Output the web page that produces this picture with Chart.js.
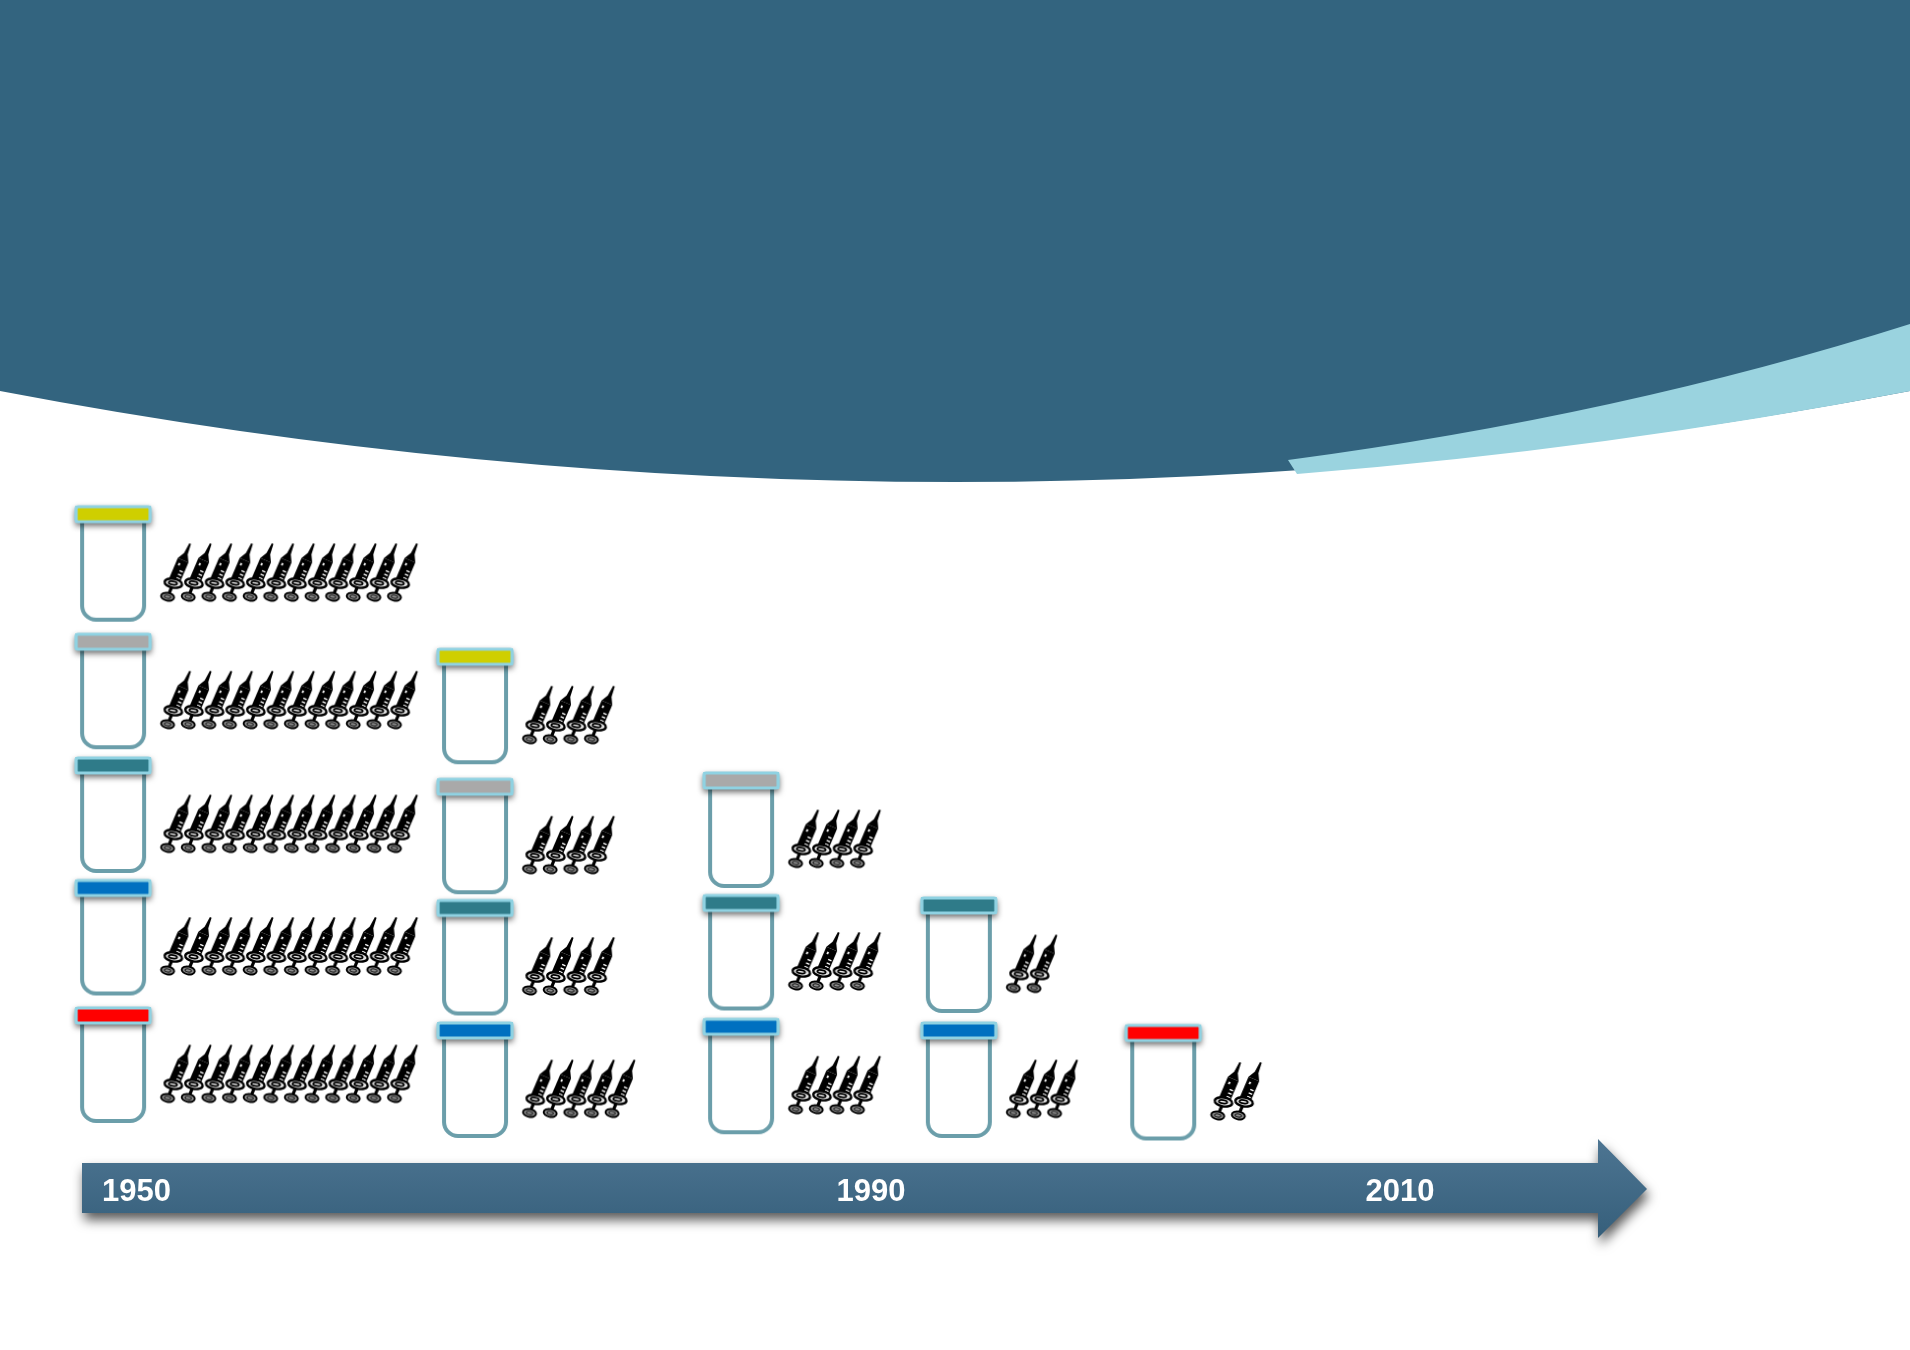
<!DOCTYPE html>
<html>
<head>
<meta charset="utf-8">
<title>Vaccines and doses over time</title>
<script src="https://cdn.jsdelivr.net/npm/chart.js@4"></script>
<style>
  html, body { margin: 0; padding: 0; background: #fff; }
  canvas { display: block; }
</style>
</head>
<body>
<canvas id="chart" width="1910" height="1350"></canvas>
<script>
// timeline labels and where they sit along the arrow (x axis is 0-100 along the slide)
const tickPos = [7.15, 45.6, 73.3];
const tickLabels = ['1950', '1990', '2010'];

// one entry per column of jars, top jar first
const columnPos = [5.92, 24.87, 38.8, 50.2, 60.9];
const jarLevels = [
    [5.01, 3.99, 3.0, 2.02, 1.0],
    [3.87, 2.83, 1.86, 0.88],
    [2.88, 1.9, 0.91],
    [1.88, 0.88],
    [0.86]
];
const jarKinds = [
    ['yellow', 'gray', 'teal', 'blue', 'red'],
    ['yellow', 'gray', 'teal', 'blue'],
    ['gray', 'teal', 'blue'],
    ['teal', 'blue'],
    ['red']
];
const doseCounts = [
    [12, 12, 12, 12, 12],
    [4, 4, 4, 5],
    [4, 4, 4],
    [2, 3],
    [2]
];

const LID_COLORS = { yellow: '#cfcf00', gray: '#a9a9a9', teal: '#2f7b89', blue: '#0070c0', red: '#ff0000' };
const DOSE_GAP = 3.42;    // jar centre to first syringe, x units
const DOSE_STEP = 1.08;   // syringe to syringe
const DOSE_DROP = 0.06;   // syringes sit a little below the jar centre

function makeJar(color) {
    const c = document.createElement('canvas');
    c.width = 100; c.height = 136;
    const g = c.getContext('2d');
    const cx = 50, cy = 68;
    g.filter = 'blur(0.6px)';
    // body
    g.beginPath();
    g.roundRect(cx - 31, cy - 50, 62, 106, [0, 0, 14, 14]);
    g.fillStyle = '#fff';
    g.fill();
    g.lineWidth = 4;
    g.strokeStyle = '#6b9eaa';
    g.stroke();
    // lid shadow falling on the body
    g.save();
    g.shadowColor = 'rgba(0,0,0,0.6)';
    g.shadowBlur = 6;
    g.shadowOffsetY = 3;
    g.fillStyle = '#8fd2e2';
    g.fillRect(cx - 38, cy - 58, 76, 17);
    g.restore();
    // lid
    g.beginPath();
    g.roundRect(cx - 37, cy - 57, 74, 15, 2);
    g.fillStyle = color;
    g.fill();
    g.lineWidth = 3.2;
    g.strokeStyle = '#8fd2e2';
    g.stroke();
    return c;
}

function makeSyringe() {
    const c = document.createElement('canvas');
    c.width = 50; c.height = 72;
    const g = c.getContext('2d');
    g.filter = 'blur(0.45px)';
    g.translate(25, 36);
    g.rotate(23 * Math.PI / 180);
    g.fillStyle = '#000';
    // needle + hub
    g.beginPath();
    g.moveTo(-0.9, -30); g.lineTo(0.9, -30); g.lineTo(2, -19); g.lineTo(5.8, -12);
    g.lineTo(-5.8, -12); g.lineTo(-2, -19);
    g.closePath();
    g.fill();
    // barrel
    g.fillRect(-5.8, -12, 11.6, 24);
    g.fillStyle = '#fff';
    g.fillRect(-3, -8, 1.8, 2.5);
    [-1, 2.8, 6.6].forEach(y => g.fillRect(0.8, y - 0.7, 3.6, 1.4));
    // rod
    g.fillStyle = '#000';
    g.fillRect(-1.6, 14, 3.2, 11);
    // flange
    const tilt = -13 * Math.PI / 180;
    g.lineWidth = 2.4;
    g.strokeStyle = '#000';
    g.fillStyle = '#e4e4e4';
    g.beginPath(); g.ellipse(0, 13, 8.8, 4.5, tilt, 0, 7); g.fill(); g.stroke();
    g.lineWidth = 1.8;
    g.beginPath(); g.ellipse(-0.5, 13, 4.2, 1.6, tilt, 0, 7); g.stroke();
    // thumb rest
    g.lineWidth = 1.9;
    g.fillStyle = '#8c8c8c';
    g.beginPath(); g.ellipse(0, 27.7, 6.6, 3.9, tilt, 0, 7); g.fill(); g.stroke();
    g.lineWidth = 1.1;
    g.strokeStyle = '#222';
    g.beginPath(); g.ellipse(0, 27.7, 3.2, 1.6, tilt, 0, 7); g.stroke();
    return c;
}

const syringeImg = makeSyringe();
const jarImgs = {};
Object.keys(LID_COLORS).forEach(k => { jarImgs[k] = makeJar(LID_COLORS[k]); });

// build the point lists from the arrays above
const jarPoints = [], jarStyles = [], dosePoints = [];
columnPos.forEach((x, col) => {
    jarLevels[col].forEach((level, row) => {
        jarPoints.push({ x: x, y: level });
        jarStyles.push(jarImgs[jarKinds[col][row]]);
        for (let i = 0; i < doseCounts[col][row]; i++) {
            dosePoints.push({ x: x + DOSE_GAP + i * DOSE_STEP, y: level - DOSE_DROP });
        }
    });
});

// slide background: dark banner with the pale crescent
const slideBackground = {
    id: 'slideBackground',
    beforeDraw(chart) {
        const g = chart.ctx;
        g.save();
        g.fillStyle = '#fff';
        g.fillRect(0, 0, 1910, 1350);
        g.fillStyle = '#33647f';
        g.beginPath();
        g.moveTo(0, 0); g.lineTo(1910, 0); g.lineTo(1910, 391);
        g.quadraticCurveTo(955, 573, 0, 391);
        g.closePath();
        g.fill();
        g.fillStyle = '#9ad3df';
        g.beginPath();
        g.moveTo(1288, 460);
        g.quadraticCurveTo(1620, 416, 1910, 324);
        g.lineTo(1910, 391);
        g.quadraticCurveTo(1610, 449, 1297, 474);
        g.closePath();
        g.fill();
        g.restore();
    }
};

// the timeline arrow sits under the axis labels
const timelineArrow = {
    id: 'timelineArrow',
    beforeDatasetsDraw(chart) {
        const g = chart.ctx;
        const grad = g.createLinearGradient(0, 1139, 0, 1237);
        grad.addColorStop(0, '#4d7592');
        grad.addColorStop(1, '#365f7b');
        g.save();
        g.shadowColor = 'rgba(0,0,0,0.65)';
        g.shadowBlur = 12;
        g.shadowOffsetX = 2;
        g.shadowOffsetY = 7;
        g.fillStyle = grad;
        g.beginPath();
        g.moveTo(82, 1163); g.lineTo(1598, 1163); g.lineTo(1598, 1139);
        g.lineTo(1647, 1189); g.lineTo(1598, 1238); g.lineTo(1598, 1213); g.lineTo(82, 1213);
        g.closePath();
        g.fill();
        g.restore();
    }
};

new Chart(document.getElementById('chart'), {
    type: 'scatter',
    data: {
        datasets: [
            {
                label: 'Jars',
                data: jarPoints,
                pointStyle: jarStyles,
                pointRadius: 10,
                clip: false
            },
            {
                label: 'Doses',
                data: dosePoints,
                pointStyle: syringeImg,
                pointRadius: 10,
                clip: false
            }
        ]
    },
    options: {
        responsive: false,
        animation: false,
        layout: { padding: 0, autoPadding: false },
        plugins: { legend: { display: false }, tooltip: { enabled: false } },
        scales: {
            x: {
                type: 'linear',
                min: 0,
                max: 100,
                position: { y: 0.128 },
                afterFit: s => {
                    s.height = 0;
                    s.paddingLeft = s.paddingRight = s.paddingTop = s.paddingBottom = 0;
                },
                afterBuildTicks: s => { s.ticks = tickPos.map(v => ({ value: v })); },
                grid: { display: false, drawTicks: false },
                border: { display: false },
                ticks: {
                    z: 1,
                    autoSkip: false,
                    maxRotation: 0,
                    padding: 0,
                    color: '#fff',
                    font: { family: '"Liberation Sans"', size: 31, weight: 'bold' },
                    callback: v => tickLabels[tickPos.indexOf(v)]
                }
            },
            y: {
                type: 'linear',
                display: false,
                min: -1.28,
                max: 9.52
            }
        }
    },
    plugins: [slideBackground, timelineArrow]
});
</script>
</body>
</html>
